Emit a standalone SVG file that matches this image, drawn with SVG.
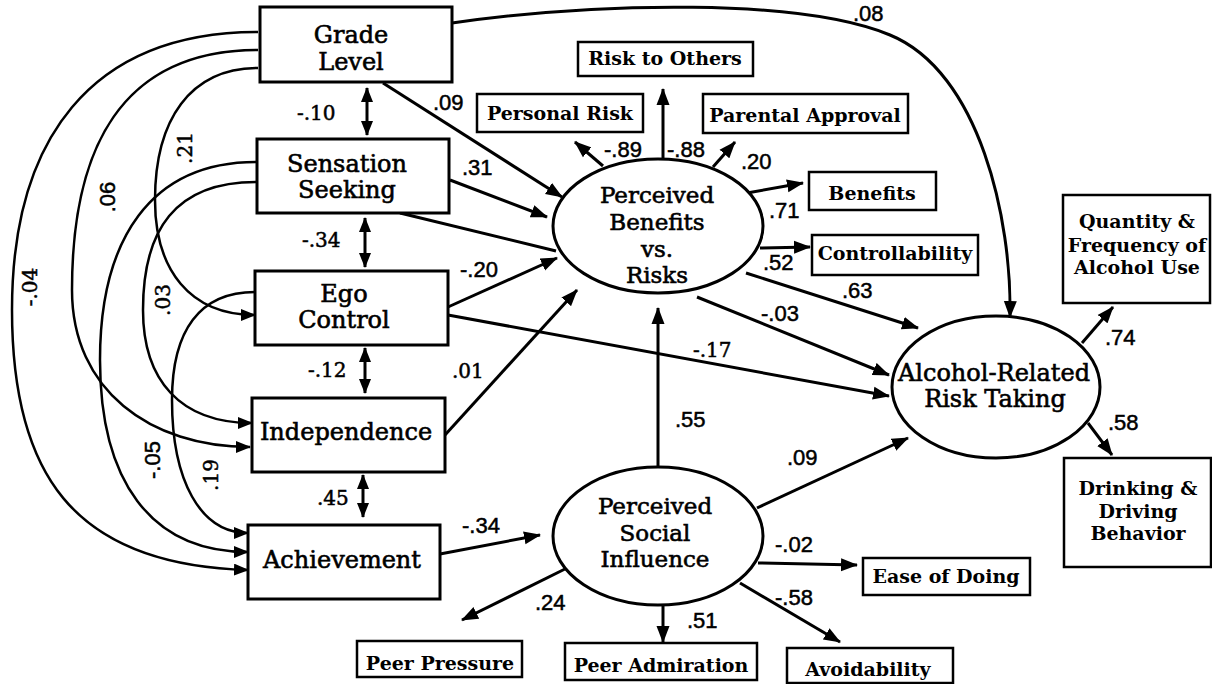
<svg xmlns="http://www.w3.org/2000/svg" width="1212" height="684" viewBox="0 0 1212 684">
  <defs>
    <marker id="head" markerUnits="userSpaceOnUse" markerWidth="18" markerHeight="14" refX="16" refY="7" orient="auto-start-reverse">
      <path d="M0,0.5 L17,7 L0,13.5 z" fill="#000"/>
    </marker>
    <marker id="headSmall" markerUnits="userSpaceOnUse" markerWidth="16" markerHeight="12" refX="14" refY="6" orient="auto-start-reverse">
      <path d="M0,0 L15,6 L0,12 z" fill="#000"/>
    </marker>
  </defs>
  <style>
    .box { fill: #fff; stroke: #000; stroke-width: 3; }
    .sbox { fill: #fff; stroke: #000; stroke-width: 2.5; }
    .oval { fill: #fff; stroke: #000; stroke-width: 3; }
    .big { font-family: "DejaVu Serif", "Liberation Serif", serif; font-size: 24px; text-anchor: middle; fill: #000; stroke: #000; stroke-width: 0.6; }
    .mid { font-size: 23px; }
    .small { font-family: "DejaVu Serif", "Liberation Serif", serif; font-size: 19px; font-weight: bold; text-anchor: middle; fill: #000; }
    .num { font-family: "Liberation Sans", Arial, sans-serif; font-size: 22px; fill: #000; stroke: #000; stroke-width: 0.5; }
    .snum { font-family: "DejaVu Serif", "Liberation Serif", serif; font-size: 20px; fill: #000; stroke: #000; stroke-width: 0.5; }
    .path { fill: none; stroke: #000; stroke-width: 3; marker-end: url(#head); }
    .plain { fill: none; stroke: #000; stroke-width: 3; }
    .corr { fill: none; stroke: #000; stroke-width: 2.5; marker-end: url(#headSmall); }
    .dbl { fill: none; stroke: #000; stroke-width: 3; marker-start: url(#headSmall); marker-end: url(#headSmall); }
  </style>
  <rect width="1212" height="684" fill="#fff"/>

  <!-- connectors -->
  <g id="connectors">
    <!-- correlations among the predictors -->
    <path class="corr" d="M258,32 C 90,32 12,140 12,310 C 12,470 70,565 248,570"/>
    <path class="corr" d="M258,50 C 120,50 72,150 72,290 C 72,390 150,447 250,447"/>
    <path class="corr" d="M258,68 C 190,68 155,120 155,200 C 155,270 190,315 255,315"/>
    <path class="corr" d="M256,182 C 175,182 143,230 143,310 C 143,380 180,423 252,423"/>
    <path class="corr" d="M256,162 C 150,162 100,240 100,360 C 100,480 150,552 248,552"/>
    <path class="corr" d="M255,292 C 200,292 172,330 172,400 C 172,480 200,533 248,533"/>
    <line class="dbl" x1="367" y1="88" x2="367" y2="135"/>
    <line class="dbl" x1="365" y1="218" x2="365" y2="267"/>
    <line class="dbl" x1="365" y1="348" x2="365" y2="393"/>
    <line class="dbl" x1="363" y1="475" x2="363" y2="517"/>

    <!-- Grade Level to risk taking -->
    <path class="path" d="M452,23 C 600,2 800,-2 890,35 S 1012,220 1010,317"/>

    <!-- paths into Perceived Benefits vs. Risks -->
    <line class="path" x1="383" y1="83" x2="562" y2="197"/>
    <line class="path" x1="450" y1="180" x2="547" y2="217"/>
    <line class="plain" x1="400" y1="213" x2="556" y2="251"/>
    <line class="path" x1="448" y1="307" x2="557" y2="258"/>
    <line class="path" x1="445" y1="435" x2="577" y2="290"/>
    <line class="path" x1="658" y1="467" x2="658" y2="308"/>

    <!-- Ego Control to risk taking -->
    <line class="path" x1="448" y1="315" x2="889" y2="396"/>

    <!-- Achievement to Perceived Social Influence -->
    <line class="path" x1="440" y1="554" x2="540" y2="535"/>

    <!-- Perceived Benefits vs. Risks indicators -->
    <line class="path" x1="603" y1="166" x2="575" y2="142"/>
    <line class="path" x1="663" y1="159" x2="663" y2="89"/>
    <line class="path" x1="713" y1="167" x2="735" y2="142"/>
    <line class="path" x1="747" y1="193" x2="803" y2="183"/>
    <line class="path" x1="760" y1="248" x2="810" y2="247"/>

    <!-- into Alcohol-Related Risk Taking -->
    <line class="path" x1="746" y1="273" x2="918" y2="328"/>
    <line class="path" x1="697" y1="297" x2="889" y2="375"/>
    <line class="path" x1="757" y1="508" x2="908" y2="438"/>

    <!-- Alcohol-Related Risk Taking indicators -->
    <line class="path" x1="1082" y1="343" x2="1113" y2="307"/>
    <line class="path" x1="1088" y1="423" x2="1112" y2="455"/>

    <!-- Perceived Social Influence indicators -->
    <line class="path" x1="567" y1="568" x2="462" y2="620"/>
    <line class="path" x1="663" y1="605" x2="663" y2="642"/>
    <line class="path" x1="758" y1="563" x2="857" y2="565"/>
    <line class="path" x1="740" y1="583" x2="840" y2="642"/>
  </g>

  <!-- coefficients -->
  <g id="coefficients">
    <text class="snum" transform="translate(37,287) rotate(-90)" text-anchor="middle">-.04</text>
    <text class="num" transform="translate(115,197) rotate(-90)" text-anchor="middle">.06</text>
    <text class="snum" transform="translate(192,148) rotate(-90)" text-anchor="middle">.21</text>
    <text class="snum" transform="translate(170,300) rotate(-90)" text-anchor="middle">.03</text>
    <text class="num" transform="translate(160,460) rotate(-90)" text-anchor="middle">-.05</text>
    <text class="snum" transform="translate(218,475) rotate(-90)" text-anchor="middle">.19</text>
    <text class="snum" x="297" y="120">-.10</text>
    <text class="snum" x="302" y="247">-.34</text>
    <text class="snum" x="308" y="377">-.12</text>
    <text class="snum" x="317" y="505">.45</text>
    <text class="num" x="433" y="110">.09</text>
    <text class="num" x="462" y="175">.31</text>
    <text class="num" x="460" y="277">-.20</text>
    <text class="snum" x="452" y="378">.01</text>
    <text class="snum" x="693" y="357">-.17</text>
    <text class="num" x="675" y="427">.55</text>
    <text class="num" x="462" y="533">-.34</text>
    <text class="num" x="535" y="610">.24</text>
    <text class="num" x="687" y="628">.51</text>
    <text class="num" x="775" y="552">-.02</text>
    <text class="num" x="775" y="605">-.58</text>
    <text class="num" x="787" y="465">.09</text>
    <text class="num" x="604" y="157">-.89</text>
    <text class="num" x="667" y="157">-.88</text>
    <text class="num" x="741" y="169">.20</text>
    <text class="num" x="769" y="218">.71</text>
    <text class="num" x="763" y="270">.52</text>
    <text class="num" x="842" y="298">.63</text>
    <text class="num" x="761" y="321">-.03</text>
    <text class="num" x="853" y="21">.08</text>
    <text class="num" x="1105" y="345">.74</text>
    <text class="num" x="1108" y="430">.58</text>
  </g>

  <!-- predictor boxes -->
  <g id="grade-level">
    <rect class="box" x="260" y="7" width="192" height="75"/>
    <text class="big" x="351" y="43">Grade</text>
    <text class="big" x="351" y="70">Level</text>
  </g>
  <g id="sensation-seeking">
    <rect class="box" x="257" y="139" width="192" height="74"/>
    <text class="big" x="347" y="172">Sensation</text>
    <text class="big" x="347" y="198">Seeking</text>
  </g>
  <g id="ego-control">
    <rect class="box" x="255" y="271" width="193" height="74"/>
    <text class="big" x="344" y="302">Ego</text>
    <text class="big" x="344" y="328">Control</text>
  </g>
  <g id="independence">
    <rect class="box" x="252" y="398" width="193" height="74"/>
    <text class="big" x="346" y="440">Independence</text>
  </g>
  <g id="achievement">
    <rect class="box" x="248" y="525" width="192" height="74"/>
    <text class="big" x="342" y="568">Achievement</text>
  </g>

  <!-- latent constructs -->
  <g id="perceived-benefits">
    <ellipse class="oval" cx="658" cy="226" rx="105" ry="67"/>
    <text class="big mid" x="657" y="203">Perceived</text>
    <text class="big mid" x="657" y="230">Benefits</text>
    <text class="big mid" x="657" y="257">vs.</text>
    <text class="big mid" x="657" y="283">Risks</text>
  </g>
  <g id="perceived-social-influence">
    <ellipse class="oval" cx="658" cy="536" rx="105" ry="69"/>
    <text class="big mid" x="655" y="514">Perceived</text>
    <text class="big mid" x="655" y="541">Social</text>
    <text class="big mid" x="655" y="567">Influence</text>
  </g>
  <g id="alcohol-risk-taking">
    <ellipse class="oval" cx="996" cy="387" rx="104" ry="71"/>
    <text class="big" x="994" y="381">Alcohol-Related</text>
    <text class="big" x="995" y="407">Risk Taking</text>
  </g>

  <!-- indicator boxes -->
  <g id="risk-to-others">
    <rect class="sbox" x="578" y="42" width="175" height="34"/>
    <text class="small" x="665" y="65">Risk to Others</text>
  </g>
  <g id="personal-risk">
    <rect class="sbox" x="477" y="94" width="166" height="38"/>
    <text class="small" x="560" y="120">Personal Risk</text>
  </g>
  <g id="parental-approval">
    <rect class="sbox" x="703" y="94" width="205" height="39"/>
    <text class="small" x="805" y="122">Parental Approval</text>
  </g>
  <g id="benefits">
    <rect class="sbox" x="809" y="172" width="127" height="38"/>
    <text class="small" x="872" y="200">Benefits</text>
  </g>
  <g id="controllability">
    <rect class="sbox" x="812" y="235" width="166" height="40"/>
    <text class="small" x="895" y="260">Controllability</text>
  </g>
  <g id="quantity-frequency">
    <rect class="sbox" x="1063" y="195" width="147" height="108"/>
    <text class="small" x="1137" y="228">Quantity &amp;</text>
    <text class="small" x="1137" y="252">Frequency of</text>
    <text class="small" x="1137" y="274">Alcohol Use</text>
  </g>
  <g id="drinking-driving">
    <rect class="sbox" x="1064" y="458" width="147" height="109"/>
    <text class="small" x="1138" y="495">Drinking &amp;</text>
    <text class="small" x="1138" y="518">Driving</text>
    <text class="small" x="1138" y="540">Behavior</text>
  </g>
  <g id="ease-of-doing">
    <rect class="sbox" x="863" y="558" width="167" height="37"/>
    <text class="small" x="946" y="583">Ease of Doing</text>
  </g>
  <g id="avoidability">
    <rect class="sbox" x="787" y="648" width="166" height="35"/>
    <text class="small" x="868" y="676">Avoidability</text>
  </g>
  <g id="peer-pressure">
    <rect class="sbox" x="357" y="641" width="165" height="36"/>
    <text class="small" x="440" y="670">Peer Pressure</text>
  </g>
  <g id="peer-admiration">
    <rect class="sbox" x="565" y="643" width="192" height="37"/>
    <text class="small" x="661" y="672">Peer Admiration</text>
  </g>
</svg>
